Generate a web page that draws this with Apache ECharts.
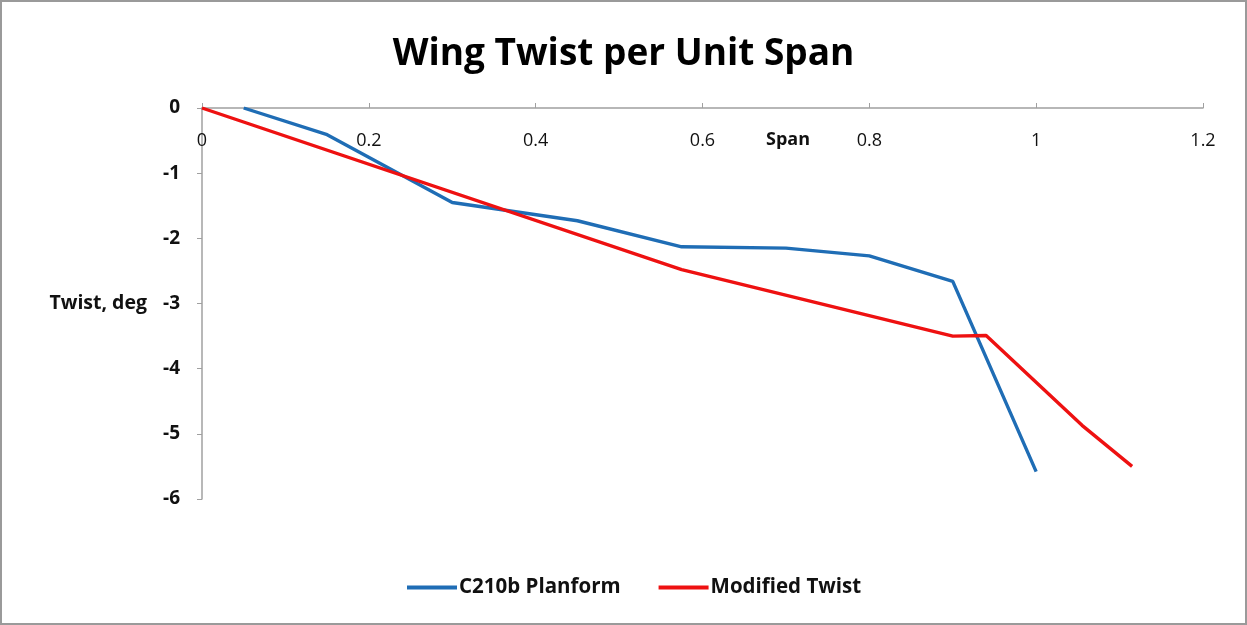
<!DOCTYPE html>
<html><head><meta charset="utf-8">
<script src="https://cdn.jsdelivr.net/npm/echarts@6/dist/echarts.min.js"></script>
<style>
html,body{margin:0;padding:0;background:#fff;}
#c{width:1247px;height:625px;box-sizing:border-box;border:2px solid #9a9a9a;}
</style></head>
<body><div id="c"></div>
<script>
const title = 'Wing Twist per Unit Span';
const xAxisTitle = 'Span';
const yAxisTitle = 'Twist, deg';
const seriesNames = ['C210b Planform', 'Modified Twist'];
const planformSpan = [0.05, 0.15, 0.3, 0.45, 0.575, 0.7, 0.8, 0.9, 1.0];
const planformTwist = [0, -0.41, -1.45, -1.73, -2.13, -2.15, -2.27, -2.66, -5.58];
const modifiedSpan = [0, 0.575, 0.9, 0.94, 1.055, 1.115];
const modifiedTwist = [0, -2.48, -3.5, -3.49, -4.87, -5.5];

const FONT = '"Open Sans", "Noto Sans", sans-serif';
const chart = echarts.init(document.getElementById('c'));
chart.setOption({
  animation: false,
  backgroundColor: '#fff',
  title: {
    text: title, left: 'center', top: 29,
    textStyle: {fontFamily: FONT, fontSize: 37, fontWeight: 'bold', color: '#000'}
  },
  legend: {
    bottom: 20, left: 400, itemGap: 38, itemWidth: 50, itemHeight: 4, icon: 'rect',
    textStyle: {fontFamily: FONT, fontSize: 20.5, fontWeight: 'bold', color: '#111', padding: [0,0,0,-3]},
    data: seriesNames
  },
  graphic: [{
    type: 'text', left: 764, top: 129,
    style: {text: xAxisTitle, font: 'bold 18px "Open Sans", sans-serif', fill: '#111'}
  }],
  grid: {left: 200, right: 42, top: 106, bottom: 124, containLabel: false},
  xAxis: {
    type: 'value', position: 'top', min: 0, max: 1.2, interval: 0.2,
    axisLine: {show: true, onZero: false, lineStyle: {color: '#a0a0a0', width: 1.5}},
    axisTick: {show: true, inside: false, length: 5, lineStyle: {color: '#a0a0a0'}},
    axisLabel: {inside: true, margin: 24, fontFamily: FONT, fontSize: 18, color: '#111'},
    splitLine: {show: false}
  },
  yAxis: {
    type: 'value', min: -6, max: 0, interval: 1,
    name: yAxisTitle, nameLocation: 'middle', nameGap: 55, nameRotate: 0,
    nameTextStyle: {fontFamily: FONT, fontSize: 19.5, fontWeight: 'bold', color: '#111', align: 'right'},
    axisLine: {show: true, onZero: false, lineStyle: {color: '#a0a0a0', width: 1.5}},
    axisTick: {show: true, inside: false, length: 5, lineStyle: {color: '#a0a0a0'}},
    axisLabel: {margin: 22, fontFamily: FONT, fontSize: 19, fontWeight: 'bold', color: '#111'},
    splitLine: {show: false}
  },
  series: [
    {
      name: seriesNames[0], type: 'line', symbol: 'none',
      data: planformSpan.map((x, i) => [x, planformTwist[i]]),
      lineStyle: {color: '#1f6db5', width: 3.4}, itemStyle: {color: '#1f6db5'}
    },
    {
      name: seriesNames[1], type: 'line', symbol: 'none',
      data: modifiedSpan.map((x, i) => [x, modifiedTwist[i]]),
      lineStyle: {color: '#ee1111', width: 3.4}, itemStyle: {color: '#ee1111'}
    }
  ]
});
</script></body></html>
